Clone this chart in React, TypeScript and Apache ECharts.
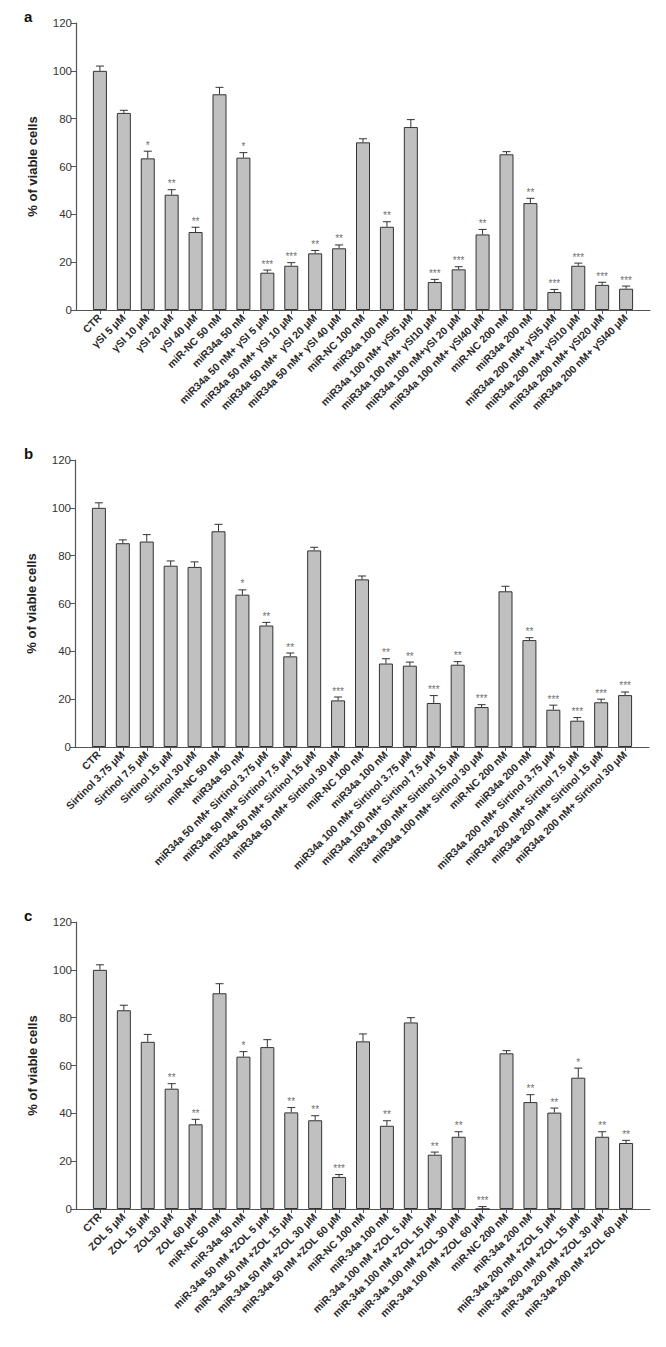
import React, { useEffect, useRef } from "react";
import * as echarts from "echarts";

const yTicks = [0, 20, 40, 60, 80, 100, 120];

const catsA = ["CTR", "γSI 5 μM", "γSI 10 μM", "γSI 20 μM", "γSI 40 μM", "miR-NC 50 nM", "miR34a 50 nM",
  "miR34a 50 nM+ γSI 5 μM", "miR34a 50 nM+ γSI 10 μM", "miR34a 50 nM+  γSI 20 μM", "miR34a 50 nM+ γSI 40 μM",
  "miR-NC 100 nM", "miR34a 100 nM", "miR34a 100 nM+ γSI5 μM", "miR34a 100 nM+ γSI10 μM", "miR34a 100 nM+γSI 20 μM",
  "miR34a 100 nM+ γSI40 μM", "miR-NC 200 nM", "miR34a 200 nM", "miR34a 200 nM+ γSI5 μM", "miR34a 200 nM+ γSI10 μM",
  "miR34a 200 nM+ γSI20 μM", "miR34a 200 nM+ γSI40 μM"];
const valsA = [100, 82.4, 63.4, 48.2, 32.6, 90.2, 63.7, 15.6, 18.5, 23.7, 25.8, 70.1, 34.8, 76.5, 11.7, 17, 31.6, 65.1, 44.7, 7.5, 18.5, 10.5, 8.9];
const errA = [2, 1.1, 3, 2.1, 2, 2.9, 2.1, 1.1, 1.3, 1.2, 1.4, 1.5, 2.1, 3.1, 1.1, 1.1, 2.1, 1.1, 2, 1.1, 1.1, 1.1, 1.1];
const sigA = ["", "", "*", "**", "**", "", "*", "***", "***", "**", "**", "", "**", "", "***", "***", "**", "", "**", "***", "***", "***", "***"];

const catsB = ["CTR", "Sirtinol 3.75 μM", "Sirtinol 7.5 μM", "Sirtinol 15 μM", "Sirtinol 30 μM", "miR-NC 50 nM", "miR34a 50 nM",
  "miR34a 50 nM+ Sirtinol 3.75 μM", "miR34a 50 nM+ Sirtinol 7.5 μM", "miR34a 50 nM+ Sirtinol 15 μM", "miR34a 50 nM+ Sirtinol 30 μM",
  "miR-NC 100 nM", "miR34a 100 nM", "miR34a 100 nM+ Sirtinol 3.75 μM", "miR34a 100 nM+ Sirtinol 7.5 μM", "miR34a 100 nM+ Sirtinol 15 μM",
  "miR34a 100 nM+ Sirtinol 30 μM", "miR-NC 200 nM", "miR34a 200 nM", "miR34a 200 nM+ Sirtinol 3.75 μM", "miR34a 200 nM+ Sirtinol 7.5 μM",
  "miR34a 200 nM+ Sirtinol 15 μM", "miR34a 200 nM+ Sirtinol 30 μM"];
const valsB = [100, 85.2, 85.9, 75.8, 75.3, 90.2, 63.7, 50.8, 37.9, 82.2, 19.5, 70.1, 34.9, 34, 18.4, 34.4, 16.7, 65.1, 44.7, 15.6, 11, 18.7, 21.7];
const errB = [2.1, 1.4, 2.9, 2, 2.1, 2.9, 2, 1.3, 1.4, 1.3, 1.4, 1.4, 2, 1.5, 3.1, 1.3, 1, 2.1, 1, 1.9, 1.3, 1.3, 1.3];
const sigB = ["", "", "", "", "", "", "*", "**", "**", "", "***", "", "**", "**", "***", "**", "***", "", "**", "***", "***", "***", "***"];

const catsC = ["CTR", "ZOL 5 μM", "ZOL 15 μM", "ZOL30 μM", "ZOL 60 μM", "miR-NC 50 nM", "miR-34a 50 nM",
  "miR-34a 50 nM +ZOL 5 μM", "miR-34a 50 nM +ZOL 15 μM", "miR-34a 50 nM +ZOL 30 μM", "miR-34a 50 nM +ZOL 60 μM",
  "miR-NC 100 nM", "miR-34a 100 nM", "miR-34a 100 nM +ZOL 5 μM", "miR-34a 100 nM +ZOL 15 μM", "miR-34a 100 nM +ZOL 30 μM",
  "miR-34a 100 nM +ZOL 60 μM", "miR-NC 200 nM", "miR-34a 200 nM", "miR-34a 200 nM +ZOL 5 μM", "miR-34a 200 nM +ZOL 15 μM",
  "miR-34a 200 nM +ZOL 30 μM", "miR-34a 200 nM +ZOL 60 μM"];
const valsC = [100, 83.1, 69.9, 50.3, 35.4, 90.2, 63.7, 67.7, 40.4, 37.1, 13.4, 70.1, 34.8, 78, 22.7, 30.2, 0, 65.1, 44.7, 40.3, 54.9, 30.2, 27.6];
const errC = [2.1, 2.1, 3.1, 2.1, 2.1, 4, 2.1, 3.1, 2, 1.9, 1, 3.1, 2.1, 2, 1.1, 2.1, 1, 1.1, 3.1, 1.9, 4, 2.1, 1.1];
const sigC = ["", "", "", "**", "**", "", "*", "", "**", "**", "***", "", "**", "", "**", "**", "***", "", "**", "**", "*", "**", "**"];

const panels = [
  { letter: "a", cats: catsA, vals: valsA, errs: errA, sigs: sigA, top: 23, left: 76 },
  { letter: "b", cats: catsB, vals: valsB, errs: errB, sigs: sigB, top: 460, left: 75 },
  { letter: "c", cats: catsC, vals: valsC, errs: errC, sigs: sigC, top: 922, left: 76 },
];

const FONT = "Arial, 'Liberation Sans', sans-serif";

export default function App() {
  const ref = useRef<HTMLDivElement>(null);
  useEffect(() => {
    if (!ref.current) return;
    const chart = echarts.init(ref.current, null, { renderer: "svg" });
    const grids: any[] = [];
    const xAxes: any[] = [];
    const yAxes: any[] = [];
    const series: any[] = [];
    const graphics: any[] = [];
    panels.forEach((p, k) => {
      grids.push({ left: p.left, top: p.top, width: 574, height: 287, containLabel: false });
      const n = p.cats.length + 1;
      xAxes.push({
        type: "category",
        gridIndex: k,
        boundaryGap: false,
        data: ["", ...p.cats, ""],
        axisLine: { lineStyle: { color: "#555", width: 1.2 } },
        axisTick: { show: true, length: 4, interval: (i: number) => i > 0 && i < n, lineStyle: { color: "#555" } },
        axisLabel: {
          interval: 0,
          rotate: 45,
          margin: 6,
          fontFamily: FONT,
          fontWeight: "bold",
          fontSize: 10.5,
          color: "#2a2a2a",
        },
        splitLine: { show: false },
      });
      yAxes.push({
        type: "value",
        gridIndex: k,
        min: yTicks[0],
        max: yTicks[yTicks.length - 1],
        interval: 20,
        name: "% of viable cells",
        nameLocation: "middle",
        nameGap: 37,
        nameTextStyle: { fontFamily: FONT, fontWeight: "bold", fontSize: 13, color: "#222" },
        axisLine: { show: true, lineStyle: { color: "#555", width: 1.2 } },
        axisTick: { show: true, length: 5, lineStyle: { color: "#555" } },
        axisLabel: { fontFamily: FONT, fontSize: 11.5, color: "#333", margin: 4 },
        splitLine: { show: false },
      });
      series.push({
        type: "bar",
        xAxisIndex: k,
        yAxisIndex: k,
        barWidth: 14,
        data: ["-", ...p.vals, "-"],
        itemStyle: { color: "#c0c0c0", borderColor: "#333", borderWidth: 1 },
        silent: true,
      });
      const sigs = p.sigs;
      series.push({
        type: "custom",
        xAxisIndex: k,
        yAxisIndex: k,
        data: p.vals.map((v, i) => [i + 1, v, p.errs[i]]),
        renderItem: (params: any, api: any) => {
          const x = api.value(0);
          const v = api.value(1);
          const e = api.value(2);
          const b = api.coord([x, v]);
          const t = api.coord([x, v + e]);
          return {
            type: "group",
            children: [
              { type: "line", shape: { x1: b[0], y1: b[1], x2: t[0], y2: t[1] }, style: { stroke: "#333", lineWidth: 1 } },
              { type: "line", shape: { x1: t[0] - 4, y1: t[1], x2: t[0] + 4, y2: t[1] }, style: { stroke: "#333", lineWidth: 1 } },
              {
                type: "text",
                x: t[0],
                y: t[1] - 1,
                style: { text: sigs[params.dataIndex], fill: "#707070", fontSize: 10, fontFamily: FONT, align: "center", verticalAlign: "bottom" },
              },
            ],
          };
        },
        silent: true,
        z: 3,
      });
      graphics.push({
        type: "text",
        left: 24,
        top: p.top - 14,
        style: { text: p.letter, fontFamily: FONT, fontWeight: "bold", fontSize: 15, fill: "#111" },
      });
    });
    chart.setOption({
      animation: false,
      backgroundColor: "#fff",
      grid: grids,
      xAxis: xAxes,
      yAxis: yAxes,
      series,
      graphic: graphics,
    });
    return () => chart.dispose();
  }, []);
  return <div ref={ref} style={{ position: "fixed", left: 0, top: 0, width: 666, height: 1347, background: "#fff" }} />;
}
